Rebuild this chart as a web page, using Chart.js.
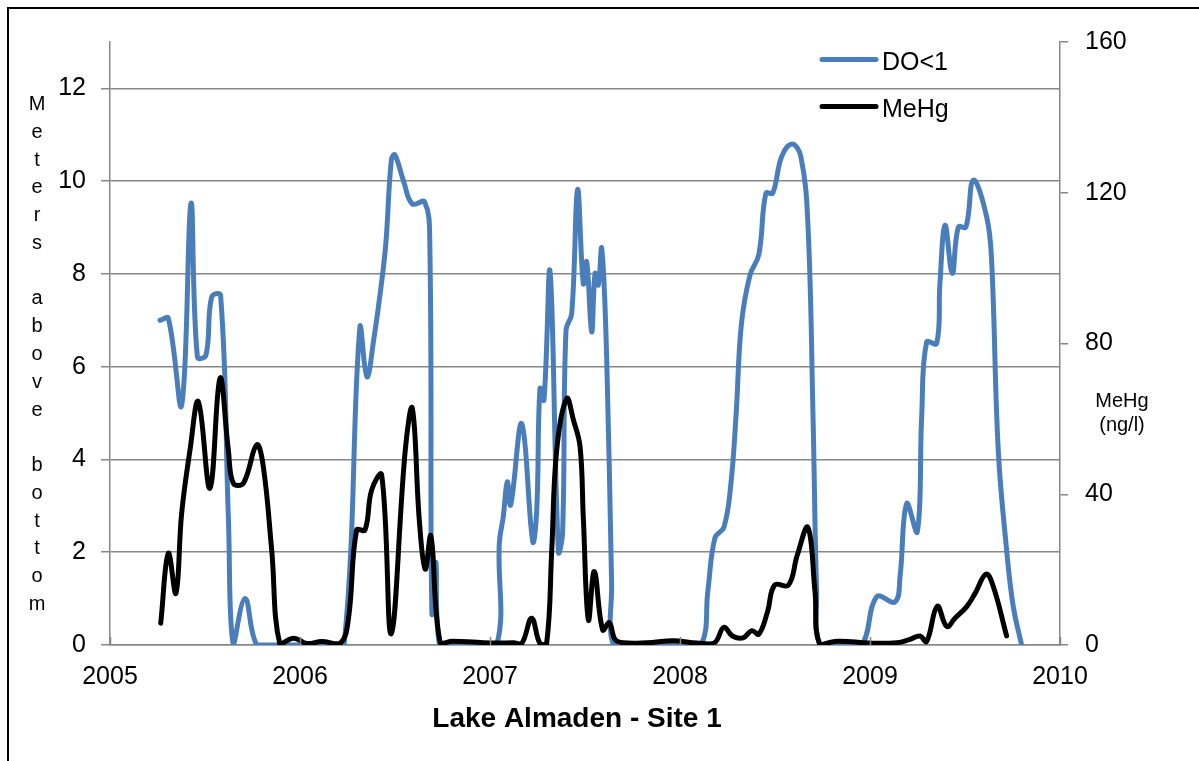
<!DOCTYPE html>
<html>
<head>
<meta charset="utf-8">
<script src="https://cdn.jsdelivr.net/npm/chart.js@4/dist/chart.umd.min.js"></script>
<style>
  html, body { margin: 0; padding: 0; background: #ffffff; }
  #wrap { width: 1199px; height: 761px; position: relative; }
</style>
</head>
<body>
<div id="wrap"><canvas id="chart" width="1199" height="761"></canvas></div>
<script>
// Year ticks on the time axis
const yearTicks = [2005, 2006, 2007, 2008, 2009, 2010];

// Height of the DO<1 layer above the lake bottom (metres), by decimal year
const doYears = [
  2005.263, 2005.307, 2005.377, 2005.426, 2005.460, 2005.505, 2005.535, 2005.582, 2005.623, 2005.649,
  2005.711, 2005.772, 2005.850, 2006.000, 2006.150, 2006.232,
  2006.315, 2006.352, 2006.389, 2006.434, 2006.453, 2006.481, 2006.499, 2006.545, 2006.591, 2006.656,
  2006.683, 2006.694, 2006.715, 2006.735, 2006.800, 2006.900, 2007.035,
  2007.049, 2007.070, 2007.091, 2007.109, 2007.167, 2007.225, 2007.246, 2007.263, 2007.284, 2007.316,
  2007.360, 2007.382, 2007.400, 2007.430, 2007.461, 2007.491, 2007.509, 2007.535, 2007.553, 2007.570,
  2007.588, 2007.614, 2007.640, 2007.649, 2007.750, 2007.900, 2008.000, 2008.111,
  2008.147, 2008.184, 2008.231, 2008.267, 2008.295, 2008.323, 2008.368, 2008.415, 2008.452, 2008.488,
  2008.535, 2008.590, 2008.636, 2008.673, 2008.700, 2008.719, 2008.737, 2008.850, 2008.956,
  2009.035, 2009.132, 2009.158, 2009.193, 2009.249, 2009.272, 2009.298, 2009.351, 2009.368, 2009.395,
  2009.433, 2009.465, 2009.505, 2009.544, 2009.614, 2009.640, 2009.675, 2009.719, 2009.754, 2009.798
];
const doMeters = [
  7.00, 7.04, 5.17, 9.52, 6.21, 6.25, 7.50, 7.54, 2.76, 0.00,
  1.00, 0.00, 0.00, 0.00, 0.00, 0.00,
  6.84, 5.78, 6.61, 7.97, 8.72, 10.46, 10.57, 10.00, 9.51, 9.55,
  8.72, 0.70, 1.78, 0.00, 0.00, 0.00, 0.00,
  2.19, 2.77, 3.52, 3.02, 4.77, 2.23, 2.91, 5.53, 5.28, 8.04,
  2.01, 2.41, 6.79, 7.14, 9.82, 7.79, 8.26, 6.75, 8.01, 7.76,
  8.55, 6.21, 1.33, 0.00, 0.00, 0.00, 0.00, 0.00,
  1.18, 2.31, 2.54, 3.44, 4.95, 6.91, 7.97, 8.42, 9.74, 9.74,
  10.53, 10.80, 10.53, 9.10, 4.95, 1.18, 0.00, 0.00, 0.00,
  1.04, 0.93, 1.47, 3.05, 2.44, 4.92, 6.53, 6.50, 7.79, 9.05,
  8.01, 9.01, 9.01, 10.02, 9.23, 8.29, 4.20, 2.05, 0.83, 0.00
];

// Methylmercury concentration (ng/l), by decimal year
const mehgYears = [
  2005.267, 2005.307, 2005.347, 2005.377, 2005.421, 2005.465, 2005.526, 2005.579, 2005.623, 2005.649,
  2005.702, 2005.772, 2005.807, 2005.851, 2005.895, 2005.965, 2006.035, 2006.114, 2006.211,
  2006.254, 2006.298, 2006.342, 2006.377, 2006.430, 2006.480, 2006.554, 2006.591, 2006.628, 2006.659,
  2006.689, 2006.738, 2006.803, 2006.932, 2007.042, 2007.123, 2007.167, 2007.219, 2007.263, 2007.298,
  2007.325, 2007.351, 2007.404, 2007.439, 2007.474, 2007.491, 2007.518, 2007.549, 2007.593, 2007.628,
  2007.658, 2007.702, 2007.825, 2007.965, 2008.090, 2008.180,
  2008.231, 2008.276, 2008.332, 2008.378, 2008.415, 2008.461, 2008.498, 2008.571, 2008.617, 2008.673,
  2008.710, 2008.737, 2008.829, 2008.995, 2009.140, 2009.211, 2009.263, 2009.298,
  2009.354, 2009.404, 2009.447, 2009.509, 2009.553, 2009.611, 2009.649, 2009.719
];
const mehgNgL = [
  5.8, 24.3, 13.7, 34.9, 51.7, 64.6, 41.6, 70.8, 51.7, 42.9,
  42.9, 53.1, 47.3, 25.2, 0.0, 1.8, 0.4, 0.9, 0.4,
  6.6, 30.5, 30.5, 41.1, 45.1, 3.0, 51.7, 62.8, 33.1, 20.1,
  28.9, 0.6, 1.0, 0.7, 0.5, 0.6, 0.4, 7.1, 0.4, 0.4,
  25.2, 51.7, 65.4, 59.7, 52.6, 34.0, 6.6, 19.5, 4.0, 5.9,
  1.5, 0.6, 0.6, 1.1, 0.5, 0.5,
  4.7, 2.4, 1.9, 3.8, 2.9, 8.9, 15.9, 15.9, 23.8, 31.2,
  14.5, 0.0, 1.0, 0.5, 0.6, 1.5, 2.4, 0.9,
  10.3, 4.9, 7.1, 10.2, 13.7, 18.8, 15.5, 2.4
];

const FONT = "'Liberation Sans', Arial, Helvetica, sans-serif";
const AXIS_GREY = '#878787';
const DO_BLUE = '#4A7EBB';

const toPoints = (xs, ys) => xs.map((x, i) => ({ x: x, y: ys[i] }));

// Frame, axis titles, inward year ticks and the legend
const decor = {
  id: 'decor',
  afterDraw(chart) {
    const { ctx, chartArea: area, scales } = chart;
    ctx.save();

    // outer frame (left and top edges)
    ctx.strokeStyle = '#000000';
    ctx.lineWidth = 2;
    ctx.beginPath();
    ctx.moveTo(8, chart.height + 2);
    ctx.lineTo(8, 8);
    ctx.lineTo(chart.width + 2, 8);
    ctx.stroke();

    // small year ticks pointing up from the time axis
    ctx.strokeStyle = AXIS_GREY;
    ctx.lineWidth = 1.5;
    yearTicks.forEach(v => {
      const px = Math.round(scales.x.getPixelForValue(v)) + 0.5;
      ctx.beginPath();
      ctx.moveTo(px, area.bottom);
      ctx.lineTo(px, area.bottom - 8);
      ctx.stroke();
    });

    ctx.fillStyle = '#000000';

    // left axis title, one letter per line
    ctx.font = '20px ' + FONT;
    ctx.textAlign = 'center';
    ctx.textBaseline = 'alphabetic';
    const leftTitle = 'Meters above bottom';
    for (let i = 0; i < leftTitle.length; i++) {
      const ch = leftTitle[i];
      if (ch !== ' ') ctx.fillText(ch, 37, 110 + i * 27.78);
    }

    // right axis title
    ctx.fillText('MeHg', 1122, 407);
    ctx.fillText('(ng/l)', 1122, 431);

    // time axis title
    ctx.font = 'bold 28px ' + FONT;
    ctx.fillText('Lake Almaden - Site 1', (area.left + area.right) / 2 - 8, 727);

    // legend
    const legendLeft = area.right - 238;
    const rows = [59.5, 106.5];
    ctx.font = '25px ' + FONT;
    ctx.textAlign = 'left';
    chart.data.datasets.forEach((ds, i) => {
      const y = rows[i];
      ctx.strokeStyle = ds.borderColor;
      ctx.lineWidth = 5;
      ctx.lineCap = 'round';
      ctx.beginPath();
      ctx.moveTo(legendLeft, y);
      ctx.lineTo(legendLeft + 54, y);
      ctx.stroke();
      ctx.fillStyle = '#000000';
      ctx.fillText(ds.label, legendLeft + 60, y + 10);
    });

    ctx.restore();
  }
};

new Chart(document.getElementById('chart'), {
  type: 'line',
  data: {
    datasets: [
      {
        label: 'DO<1',
        data: toPoints(doYears, doMeters),
        yAxisID: 'y',
        borderColor: DO_BLUE,
        borderWidth: 5,
        borderCapStyle: 'round',
        borderJoinStyle: 'round',
        pointRadius: 0,
        tension: 0.4,
        fill: false,
        order: 2
      },
      {
        label: 'MeHg',
        data: toPoints(mehgYears, mehgNgL),
        yAxisID: 'y1',
        borderColor: '#000000',
        borderWidth: 5,
        borderCapStyle: 'round',
        borderJoinStyle: 'round',
        pointRadius: 0,
        tension: 0.4,
        fill: false,
        order: 1
      }
    ]
  },
  options: {
    responsive: false,
    animation: false,
    devicePixelRatio: 1,
    layout: { padding: { top: 42, left: 0, right: 0, bottom: 0 } },
    plugins: {
      legend: { display: false },
      tooltip: { enabled: false }
    },
    scales: {
      x: {
        type: 'linear',
        min: 2005,
        max: 2010,
        afterBuildTicks: s => { s.ticks = yearTicks.map(v => ({ value: v })); },
        afterFit: s => { s.height = 116; },
        ticks: {
          font: { family: FONT, size: 25 },
          color: '#000000',
          padding: 17,
          maxRotation: 0,
          autoSkip: false,
          callback: v => String(v)
        },
        grid: { drawOnChartArea: false, drawTicks: false },
        border: { color: AXIS_GREY, width: 1.5 }
      },
      y: {
        position: 'left',
        min: 0,
        max: 13,
        afterFit: s => { s.width = 110; },
        ticks: {
          stepSize: 2,
          includeBounds: false,
          font: { family: FONT, size: 25 },
          color: '#000000',
          padding: 15
        },
        grid: { color: AXIS_GREY, lineWidth: 1.5, tickLength: 9 },
        border: { color: AXIS_GREY, width: 1.5 }
      },
      y1: {
        position: 'right',
        min: 0,
        max: 160,
        afterFit: s => { s.width = 139; },
        ticks: {
          stepSize: 40,
          font: { family: FONT, size: 25 },
          color: '#000000',
          padding: 17
        },
        grid: { drawOnChartArea: false, color: AXIS_GREY, lineWidth: 1.5, tickLength: 8 },
        border: { color: AXIS_GREY, width: 1.5 }
      }
    }
  },
  plugins: [decor]
});
</script>
</body>
</html>
